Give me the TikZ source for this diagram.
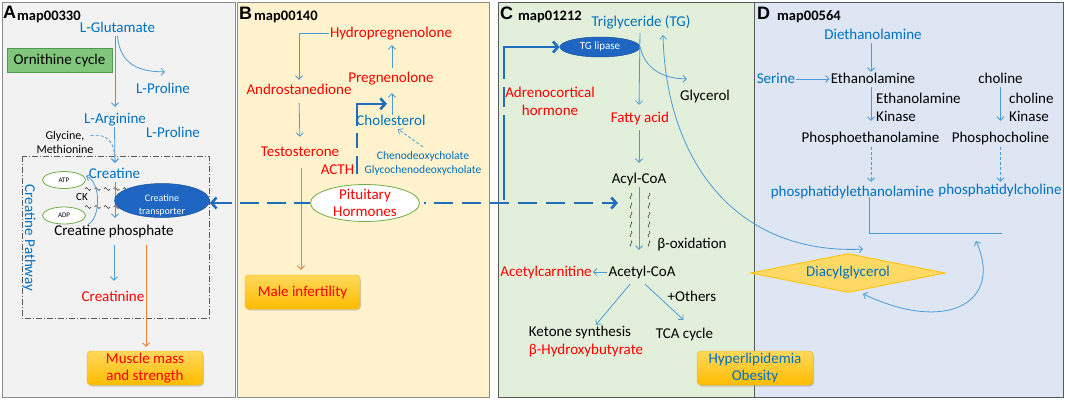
\documentclass[tikz,border=0pt]{standalone}
\usepackage{fontspec}
\setmainfont{Carlito}
\newfontfamily\lblfont{Liberation Sans}
\usetikzlibrary{arrows.meta,shapes.geometric,shadows,calc}
\definecolor{tblue}{HTML}{0070C0}
\definecolor{ablue}{HTML}{4A9BD8}
\definecolor{tred}{HTML}{FF0000}
\definecolor{fblue}{HTML}{1F6EBC}
\definecolor{ellblue}{HTML}{1E66C2}
\definecolor{panA}{HTML}{F2F2F2}
\definecolor{panB}{HTML}{FFF2CC}
\definecolor{panC}{HTML}{E2EFDA}
\definecolor{panD}{HTML}{DEE6F4}
\definecolor{bordL}{HTML}{8C8C8C}
\definecolor{bordD}{HTML}{595959}
\definecolor{orng}{HTML}{ED7D31}
\definecolor{gold1}{HTML}{FFD85C}
\definecolor{gold2}{HTML}{FFBC00}
\definecolor{goldb}{HTML}{F0B000}
\definecolor{ogreen}{HTML}{80C77C}
\definecolor{ogreenb}{HTML}{4E9A4E}
\definecolor{egreen}{HTML}{70AD47}
\definecolor{dfill}{HTML}{FFD966}
\definecolor{dbord}{HTML}{FFC000}
\tikzset{
  t/.style={font=\fontsize{15}{17}\selectfont, inner sep=1pt, text height=11pt, text depth=3pt},
  tb/.style={t, text=tblue},
  tr/.style={t, text=tred},
  tk/.style={t, text=black},
  mt/.style={font=\fontsize{15}{18}\selectfont, inner sep=1pt, align=center},
  sm/.style={font=\fontsize{11.5}{14}\selectfont, inner sep=1pt, align=center},
  arr/.style={draw=ablue, line width=0.8pt, -{Straight Barb[length=3.5pt,width=7pt]}},
  darr/.style={arr, dash pattern=on 3pt off 2pt},
  fat/.style={draw=fblue, line width=2.6pt},
  bigtip/.tip={Straight Barb[length=5pt,width=11pt]},
  goldbox/.style={rounded corners=4pt, top color=gold1, bottom color=gold2, draw=goldb,
     drop shadow={shadow xshift=1pt, shadow yshift=-1.5pt, opacity=0.35},
     align=center, font=\fontsize{15}{17}\selectfont, minimum width=116pt, minimum height=34pt, inner sep=1pt},
  letter/.style={font=\lblfont\bfseries\fontsize{18}{20}\selectfont, anchor=base west, inner sep=0pt},
  maplbl/.style={font=\bfseries\fontsize{14.5}{16}\selectfont, anchor=base west, inner sep=0pt},
  smallell/.style={ellipse, draw=egreen, fill=white, line width=0.8pt, minimum width=43pt, minimum height=17pt, inner sep=0pt, font=\fontsize{7}{8}\selectfont},
  blueell/.style={ellipse, fill=ellblue, draw=ellblue!80!black, line width=0.5pt, inner sep=0pt},
  tld/.style={draw=black!80, line width=0.6pt},
}
\begin{document}
\begin{tikzpicture}[x=1pt,y=-1pt]
\useasboundingbox (0,0) rectangle (1065,402);
\fill[white] (0,0) rectangle (1065,402);
% panels
\filldraw[fill=panA, draw=bordL, line width=0.8pt] (2,2) rectangle (235,397);
\filldraw[fill=panB, draw=bordL, line width=0.8pt] (237,2) rectangle (489,397);
\filldraw[fill=panC, draw=bordD, line width=0.8pt] (498,2) rectangle (754,397);
\filldraw[fill=panD, draw=bordD, line width=0.8pt] (754,2) rectangle (1063,397);
% headers
\node[letter] (la) at (3,18.5) {A};
\node[maplbl] (ma) at (17,20.5) {map00330};
\node[letter] (lb) at (239,19) {B};
\node[maplbl] (mb) at (254,20.5) {map00140};
\node[letter] (lc) at (500,19) {C};
\node[maplbl] (mc) at (518,20.5) {map01212};
\node[letter] (ld) at (757,19) {D};
\node[maplbl] (md) at (777,20.5) {map00564};

% ---------------- Panel A ----------------
\draw[draw=bordD, line width=0.7pt, dash pattern=on 6pt off 2pt on 1pt off 2pt] (22,156) rectangle (209,318);
\node[tb] (glu) at (117.5,28) {L-Glutamate};
\node[draw=ogreenb, fill=ogreen, line width=0.8pt, minimum width=105pt, minimum height=24pt, inner sep=1pt, font=\fontsize{15}{17}\selectfont] (orn) at (59.5,60) {Ornithine cycle};
\node[tb] (pro1) at (163,89) {L-Proline};
\node[tb] (arg) at (115,119) {L-Arginine};
\node[tb] (pro2) at (173,133) {L-Proline};
\node[font=\fontsize{12}{13.5}\selectfont, inner sep=1pt, align=center] (gly) at (65,142.5) {Glycine,\\Methionine};
\node[tb] (cre) at (114.5,174) {Creatine};
\node[smallell] (atp) at (64,180) {ATP};
\node[smallell] (adp) at (64,215.5) {ADP};
\node[font=\fontsize{11}{12}\selectfont, inner sep=0pt] (ck) at (82,197) {CK};
\foreach \xx in {85,94.5,104,113.5,123,132.5} {
  \draw[tld] (\xx,189) sin (\xx+1.5,187.5) cos (\xx+3,189) sin (\xx+4.5,190.5) cos (\xx+6,189);
  \draw[tld] (\xx,207) sin (\xx+1.5,205.5) cos (\xx+3,207) sin (\xx+4.5,208.5) cos (\xx+6,207);
}
\node[tk] (crp) at (114,231) {Creatine phosphate};
\node[tr] (crn) at (113,297) {Creatinine};
\node[tb, rotate=-90] (cpw) at (29,238) {Creatine Pathway};
\node[goldbox, text=tred] (musc) at (145,368) {Muscle mass\\and strength};

\draw[arr] (glu.south) .. controls (120,65) and (140,72) .. ($(pro1.north)+(2,-9)$);
\draw[arr, shorten >=4pt] (arg.north |- glu.south) -- (arg.north);
\draw[arr, shorten >=3pt] (cre.north |- arg.south) -- ($(cre.north)+(0.5,0)$);
\draw[darr] ($(gly.east)+(-4,-7)$) .. controls (110,133) and (115,145) .. ($(cre.north)+(0.5,-3)$);
\draw[arr] ($(cre.south)+(0.5,0)$) -- ($(crp.north)+(1,-5)$);
\draw[arr] ($(adp.east)+(2,9)$) .. controls (101,218) and (101,182) .. ($(atp.east)+(0,-4)$);
\draw[arr] ($(crp.south)+(0,6)$) -- ($(crn.north)+(1,-8)$);
\draw[draw=orng, line width=0.8pt, -{Straight Barb[length=3.5pt,width=7pt]}] ($(crp.south)+(32,6)$) -- ($(musc.north)+(1,-4)$);

\node[blueell, minimum width=95pt, minimum height=34pt] (trans) at (162,200.5) {};
\node[font=\fontsize{10}{13}\selectfont, text=white, align=center, inner sep=0pt] (transt) at (162,205) {Creatine\\transporter};

% ---------------- Panel B ----------------
\node[tr] (hyd) at (391,33) {Hydropregnenolone};
\node[tr] (and) at (299,90) {Androstanedione};
\node[tr] (tes) at (300,152) {Testosterone};
\node[tr] (pre) at (391,78) {Pregnenolone};
\node[tb] (cho) at (391,121) {Cholesterol};
\node[sm, text=tblue] (cheno) at (423,163) {Chenodeoxycholate\\Glycochenodeoxycholate};
\node[tr] (acth) at (337.5,170) {ACTH};
\node[ellipse, draw=egreen, fill=white, line width=0.8pt, minimum width=109pt, minimum height=37pt, inner sep=0pt] (pit) at (365,203) {};
\node[font=\fontsize{15}{17}\selectfont, text=tred, align=center, inner sep=0pt] (pitt) at (365,203) {Pituitary\\Hormones};
\node[goldbox, text=tred, minimum width=115pt] (male) at (302.5,292) {Male infertility};

\draw[arr, shorten >=2pt] (hyd.west) -| (and.north);
\draw[arr, shorten <=5pt, shorten >=7pt] (and.south) -- (tes.north);
\draw[arr, shorten <=2pt, shorten >=4pt] ($(pre.north)+(1,0)$) -- ($(hyd.south)+(1,0)$);
\draw[arr, shorten <=-2pt, shorten >=7pt] ($(cho.north)+(1,0)$) -- ($(pre.south)+(1,0)$);
\draw[darr] ($(cheno.north)+(0,-3)$) -- ($(cho.south)+(7,0)$);
\draw[draw=orng, line width=0.8pt, -{Straight Barb[length=3.5pt,width=7pt]}] ($(tes.south)+(1,8)$) -- ($(male.north)+(-1.5,-5)$);
\draw[fat, dash pattern=on 49pt off 7pt on 15pt off 8pt on 18pt off 40pt, {bigtip}-] ($(cho.north)+(-4,-9)$) -| ($(pit.north)+(-8,-1.5)$);

% thick dashed horizontal
\coordinate (jn) at (504,203);
\coordinate (fatend) at (618,203);
\draw[fat, dash pattern=on 19pt off 8pt, {bigtip}-] (pit.west -| trans.east) -- (pit.west);
\draw[fat] ($(pit.east)+(4,0)$) -- ++(2,0);
\draw[fat, dash pattern=on 19pt off 9pt, -{bigtip}] ($(pit.east)+(14,0)$) -- (fatend);

% ---------------- Panel C ----------------
\node[tb] (tg) at (641,22) {Triglyceride (TG)};
\node[blueell, minimum width=80pt, minimum height=20pt, font=\fontsize{11}{12}\selectfont, text=white] (lip) at (600,47) {TG lipase};
\node[mt, text=tred] (adr) at (550,101) {Adrenocortical\\hormone};
\node[tr] (fa) at (640,118) {Fatty acid};
\node[tk] (glyc) at (705,96) {Glycerol};
\node[tk] (acyl) at (639,179) {Acyl-CoA};
\node[tk] (beta) at (692,244) {β-oxidation};
\node[tk] (acet) at (642,272) {Acetyl-CoA};
\node[tr] (acar) at (546,272) {Acetylcarnitine};
\node[tk] (ket) at (580,332) {Ketone synthesis};
\node[tr] (bhb) at (586,350) {β-Hydroxybutyrate};
\node[tk] (oth) at (692,297) {+Others};
\node[tk] (tca) at (684.5,334) {TCA cycle};
\node[goldbox, text=tblue] (hyp) at (755,368) {Hyperlipidemia\\Obesity};

\draw[fat, dash pattern=on 85pt off 8pt on 20pt off 8pt, {bigtip}-] (lip.west) -| (jn);
\draw[arr, shorten <=3pt, shorten >=5pt] (fa.north |- tg.south) -- ($(fa.north)+(-1,0)$);
\draw[arr] (lip.east) .. controls (645,70) and (665,79) .. ($(glyc.north west)+(8,-9)$);
\draw[arr, shorten <=4pt, shorten >=8pt] ($(fa.south)+(-1,0)$) -- (acyl.north);
\draw[arr, shorten >=14pt] (acyl.south) -- (acyl.south |- acet.north);
\foreach \xx in {631,649} {
  \foreach \yy in {193,202.5,212,221.5,231,240.5} {
    \draw[tld, line width=0.5pt] (\xx,\yy) sin (\xx+1,\yy+1.5) cos (\xx,\yy+3) sin (\xx-1,\yy+4.5) cos (\xx,\yy+6);
  }
}
\draw[arr] (acet.west) -- (acar.east);
\draw[arr] ($(acet.south)+(-12,4)$) -- ($(ket.north)+(16,1)$);
\draw[arr] ($(acet.south)+(3,4)$) -- ($(tca.north)+(-1,-6)$);

% ---------------- Panel D ----------------
\node[tb] (dea) at (873,35) {Diethanolamine};
\node[tb] (ser) at (776,79) {Serine};
\node[tk] (eth) at (873,79) {Ethanolamine};
\node[mt, align=left, anchor=west] (ek) at (875,107) {Ethanolamine\\Kinase};
\node[tk] (pe) at (870.5,138) {Phosphoethanolamine};
\node[tb] (ptde) at (852.5,192) {phosphatidylethanolamine};
\node[tk] (chol) at (1000.5,79) {choline};
\node[mt, align=left, anchor=west] (ck2) at (1008,107) {choline\\Kinase};
\node[tk] (pc) at (1000.5,138) {Phosphocholine};
\node[tb] (ptdc) at (1000,190) {phosphatidylcholine};
\node[diamond, aspect=5, fill=dfill, draw=dbord, line width=0.8pt, minimum width=195pt, minimum height=39pt, inner sep=0pt, font=\fontsize{15}{17}\selectfont, text=tblue] (dag) at (848,273) {Diacylglycerol};

\draw[arr] ($(dea.south)+(-2,0)$) -- ($(eth.north)+(-2,1)$);
\draw[arr] (ser.east) -- (eth.west);
\draw[arr, shorten >=9pt] ($(eth.south)+(-2,0)$) -- ($(pe.north)+(0.5,0)$);
\draw[darr, shorten <=1pt, shorten >=2pt] ($(pe.south)+(0.5,0)$) -- ($(ptde.north)+(18.5,0)$);
\draw[arr, shorten >=9pt] (chol.south) -- (pc.north);
\draw[darr, shorten <=1pt] (pc.south) -- ($(ptdc.north)+(0.5,0)$);
\draw[draw=ablue, line width=0.8pt] ($(ptde.south)+(16.5,-3)$) |- ($(ptdc.south)+(2,35)$);
\draw[draw=ablue, line width=0.8pt, {Straight Barb[length=3.5pt,width=7pt]}-{Straight Barb[length=3.5pt,width=7pt]}] ($(dag.east)+(30,-32)$) .. controls (1003,300) and (950,335) .. ($(dag.south)+(15,1)$);
\draw[draw=ablue, line width=0.8pt, {Straight Barb[length=3.5pt,width=7pt]}-{Straight Barb[length=3.5pt,width=7pt]}] ($(tg.south)+(22,5)$) .. controls (666,160) and (735,255) .. ($(dag.north)+(15,-4)$);
\end{tikzpicture}
\end{document}
